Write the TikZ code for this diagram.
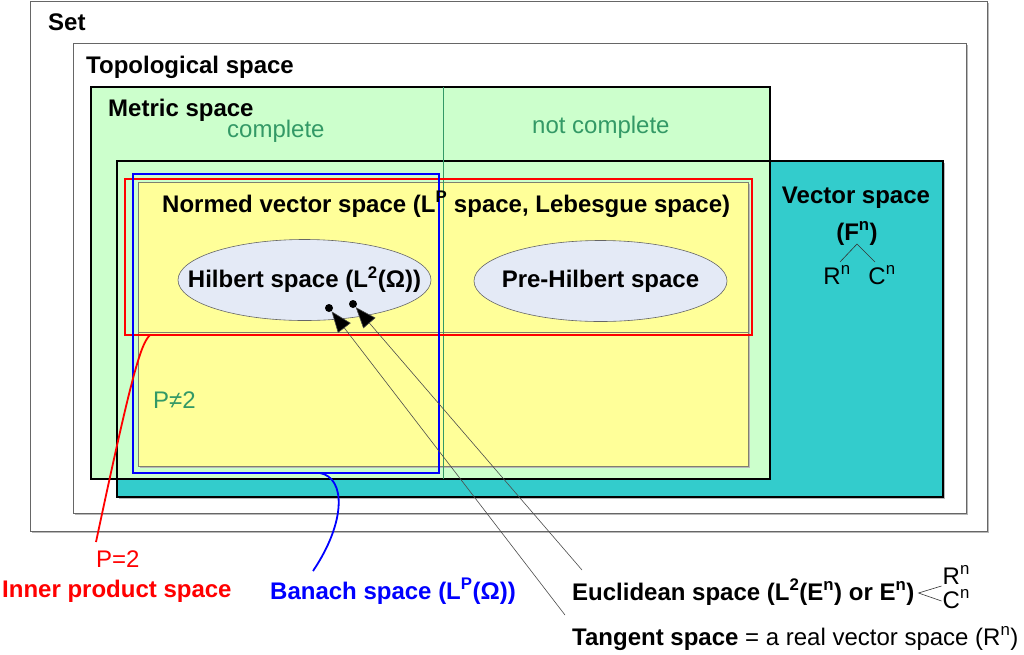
\documentclass[tikz,border=0pt]{standalone}
\usepackage{fontspec}
\setmainfont{Liberation Sans}
\usetikzlibrary{shapes.geometric,arrows.meta,calc}
\definecolor{mgreen}{HTML}{CCFFCC}
\definecolor{vteal}{HTML}{33CCCC}
\definecolor{nyellow}{HTML}{FFFF99}
\definecolor{ellfill}{RGB}{228,234,246}
\definecolor{txtgreen}{RGB}{51,153,102}
\definecolor{ybord}{RGB}{128,128,110}
\begin{document}
\begin{tikzpicture}[x=1pt,y=-1pt,
  region/.style={anchor=north west, inner sep=0pt, outer sep=0pt},
  shadowof/.style={fill=gray!55},
  f/.style={font=\fontsize{24}{28}\selectfont},
  bf/.style={font=\fontsize{24}{28}\selectfont\bfseries},
  lbl/.style={inner sep=0pt, anchor=base west},
  ctr/.style={inner sep=0pt, anchor=base},
  sp/.style={ellipse, draw=black!60, line width=0.6pt, fill=ellfill, minimum width=253pt, minimum height=81pt, inner sep=0pt},
  sptext/.style={inner sep=0pt, font=\fontsize{24}{28}\selectfont\bfseries},
  dotend/.style={circle, fill=black, inner sep=0pt, minimum size=8pt},
  pointer/.style={draw=black!70, line width=0.6pt, -{Triangle[length=21pt,width=16pt,fill=black]}},
]
\useasboundingbox (0,0) rectangle (1024,654);
\fill[white] (0,0) rectangle (1024,654);

% Set
\fill[shadowof] (31.5,2.5) rectangle (988.5,532.5);
\node[region, draw=black!60, fill=white, line width=1pt, minimum width=957pt, minimum height=530pt] (set) at (30,1) {};
% Topological
\fill[shadowof] (74.5,44.5) rectangle (967.5,514.5);
\node[region, draw=black!60, fill=white, line width=1pt, minimum width=893pt, minimum height=470pt] (topo) at (73,43) {};
% Vector space (teal)
\fill[shadowof] (119,163) rectangle (945,499);
\node[region, fill=vteal, minimum width=826pt, minimum height=336pt] (vec) at (117,161) {};
% Metric space
\node[region, draw=black, fill=mgreen, line width=2pt, minimum width=679pt, minimum height=392pt] (met) at (91,87) {};
% Vector space outline on top
\draw[black, line width=2.2pt] (vec.north west) rectangle (vec.south east);
% Normed vector space (yellow)
\fill[shadowof] (139.5,183.5) rectangle (749.5,467.5);
\node[region, draw=ybord, fill=nyellow, line width=1pt, minimum width=610pt, minimum height=284pt] (norm) at (138,182) {};
\draw[ybord, line width=0.8pt] (138,332) -- (748,332);
% complete / not complete divider
\draw[txtgreen, line width=0.7pt] (443,87) -- (443,479);
% Inner product (red) and Banach (blue)
\node[region, draw=red, line width=1.8pt, minimum width=627pt, minimum height=156pt] (ipr) at (125,179) {};
\node[region, draw=blue, line width=1.8pt, minimum width=306pt, minimum height=299pt] (ban) at (133,174) {};

% Ellipses
\node[sp] (hil) at (304.5,280) {};
\node[sptext] (hiltext) at (hil.center) {Hilbert space (L\textsuperscript{2}(Ω))};
\node[sp] (pre) at (600.5,281) {};
\node[sptext] (pretext) at (pre.center) {Pre-Hilbert space};

% Labels
\node[lbl,bf] (tset) at (48,30) {Set};
\node[lbl,bf] (ttop) at (86,73) {Topological space};
\node[lbl,bf] (tmet) at (108,116) {Metric space};
\node[lbl,f,text=txtgreen] (tcomp) at (227,137) {complete};
\node[lbl,f,text=txtgreen] (tnc) at (532,133) {not complete};
\node[lbl,bf] (tnorm) at (162,212) {Normed vector space (L\textsuperscript{P} space, Lebesgue space)};
\node[ctr,bf] (tvec) at (856,203) {Vector space};
\node[ctr,bf] (tfn) at (857,240) {(F\textsuperscript{n})};
\node[ctr,f] (vrn) at (837,284) {R\textsuperscript{n}};
\node[ctr,f] (vcn) at (882,284) {C\textsuperscript{n}};
\coordinate (apex) at (857,244);
\coordinate (vrtop) at (840,262);
\coordinate (vctop) at (875,262);
\draw[black!80, line width=0.6pt] (vrtop) -- (apex) -- (vctop);
\node[lbl,f,text=txtgreen] (pne) at (153,408) {P≠2};

\node[lbl,f,text=red] (peq) at (96,567) {P=2};
\node[lbl,bf,text=red] (tinner) at (2,597) {Inner product space};
\node[lbl,bf,text=blue] (tban) at (270,599) {Banach space (L\textsuperscript{P}(Ω))};
\node[lbl,bf] (teuc) at (572,600) {Euclidean space (L\textsuperscript{2}(E\textsuperscript{n}) or E\textsuperscript{n})};
\coordinate (eapex) at ($(teuc.base east)+(4,-7)$);
\coordinate (eup) at ($(teuc.base east)+(27,-14)$);
\coordinate (edn) at ($(teuc.base east)+(27,1)$);
\draw[black!80, line width=0.6pt] (eup) -- (eapex) -- (edn);
\node[lbl,f] (ern) at ($(teuc.base east)+(28,-16)$) {R\textsuperscript{n}};
\node[lbl,f] (ecn) at ($(teuc.base east)+(28,8)$) {C\textsuperscript{n}};
\node[lbl,f] (ttan) at (572,645) {\bfseries Tangent space\mdseries{} = a real vector space (R\textsuperscript{n})};

% Connectors
\coordinate (redfoot) at ($(ipr.south west)+(25,0)$);
\coordinate (redend) at (96,542);
\draw[red, line width=1.8pt] (redfoot) .. controls (141,344) and (133,368) .. (redend);
\coordinate (bluefoot) at ($(ban.south west)+(187,0)$);
\coordinate (blueend) at (313,571);
\draw[blue, line width=1.8pt] (bluefoot) .. controls (346,478) and (346,522) .. (blueend);

\node[dotend] (d1) at (329,308) {};
\node[dotend] (d2) at (353,304) {};
\coordinate (tanst) at (565,615);
\coordinate (eucst) at (582,570);
\draw[pointer] (tanst) -- (d1);
\draw[pointer] (eucst) -- (d2);
\end{tikzpicture}
\end{document}
